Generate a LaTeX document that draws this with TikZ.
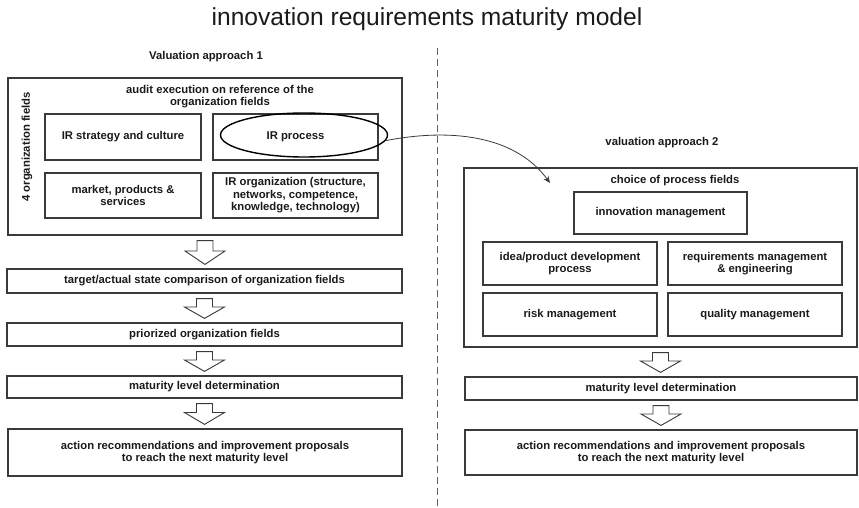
\documentclass[tikz,border=0pt]{standalone}
\usepackage{fontspec}
\setmainfont{Liberation Sans}
\usetikzlibrary{calc,arrows.meta,shapes.geometric}
\definecolor{linec}{HTML}{3A3A3A}
\definecolor{txtc}{HTML}{1A1A1A}
\tikzset{
  box/.style={draw=linec, line width=1.2pt, inner sep=0pt, align=center, text=txtc,
    font=\bfseries\fontsize{11.3}{12.5}\selectfont},
  lbl/.style={inner sep=0pt, align=center, text=txtc, font=\bfseries\fontsize{11.3}{12.5}\selectfont},
  harr/.style={draw=linec, line width=0.9pt, fill=white, line join=miter},
  sep/.style={draw=linec!80, line width=0.9pt, dash pattern=on 7pt off 4pt},
  curv/.style={draw=linec, line width=0.8pt, -{Stealth[length=7pt,width=6pt]}}
}
\newcommand\harrow[2]{%
  \path[harr] let \p1=(#1), \p2=(#2), \n1={(\y1+\y2)/2} in
    (\x1-8pt,\y1-5pt) -- (\x1+8pt,\y1-5pt) -- (\x1+8pt,\n1+1pt) -- (\x1+20pt,\n1+1pt)
    -- (\x1,\y2+4pt) -- (\x1-20pt,\n1+1pt) -- (\x1-8pt,\n1+1pt) -- cycle;}
\begin{document}
\begin{tikzpicture}[x=1pt,y=-1pt]
\useasboundingbox (0,0) rectangle (859,508);
% title
\node[anchor=base, inner sep=0pt, text=txtc, font=\fontsize{24.6}{28}\selectfont] (title) at (427,26) {innovation requirements maturity model};
% separator
\coordinate (sepT) at (437,48);
\coordinate (sepB) at (437,507);
\draw[sep] (sepT) -- (sepB);
% left side
\node[lbl, anchor=base] (va1) at (206,60) {Valuation approach 1};
\node[box, minimum width=394, minimum height=157] (big1) at (205,156.5) {};
\node[lbl] (audit) at (220,96.5) {audit execution on reference of the\\organization fields};
\node[lbl, rotate=90] (four) at (27,147) {4 organization fields};
\node[box, minimum width=156, minimum height=46] (ir1) at (123,137) {IR strategy and culture};
\node[box, minimum width=165, minimum height=46] (ir2) at (295.5,137) {IR process};
\node[box, minimum width=156, minimum height=45] (ir3) at (123,195.5) {market, products \&\\services};
\node[box, minimum width=165, minimum height=45] (ir4) at (295.5,195.5) {IR organization (structure,\\networks, competence,\\knowledge, technology)};
\node[draw=black, line width=1.4pt, ellipse, minimum width=167, minimum height=44, inner sep=0pt] (ell) at (304,135) {};
\node[box, minimum width=395, minimum height=24] (t1) at (204.5,281) {target/actual state comparison of organization fields};
\node[box, minimum width=395, minimum height=23] (t2) at (204.5,334.5) {priorized organization fields};
\node[box, minimum width=395, minimum height=22] (t3) at (204.5,387) {maturity level determination};
\node[box, minimum width=394, minimum height=47] (t4) at (205,452.5) {action recommendations and improvement proposals\\to reach the next maturity level};
\harrow{big1.south}{t1.north}
\harrow{t1.south}{t2.north}
\harrow{t2.south}{t3.north}
\harrow{t3.south}{t4.north}
% right side
\node[lbl] (va2) at (662,143) {valuation approach 2};
\node[box, minimum width=393, minimum height=179] (big2) at (660.5,257.5) {};
\node[lbl] (choice) at (675,181) {choice of process fields};
\node[box, minimum width=173, minimum height=42] (im) at (660.5,213) {innovation management};
\node[box, minimum width=174, minimum height=43] (idea) at (570,263.5) {idea/product development\\process};
\node[box, minimum width=174, minimum height=43] (req) at (755,263.5) {requirements management\\\& engineering};
\node[box, minimum width=174, minimum height=43] (risk) at (570,314.5) {risk management};
\node[box, minimum width=174, minimum height=43] (qual) at (755,314.5) {quality management};
\node[box, minimum width=392, minimum height=23] (m2) at (661,388.5) {maturity level determination};
\node[box, minimum width=392, minimum height=45] (act2) at (661,452.5) {action recommendations and improvement proposals\\to reach the next maturity level};
\harrow{big2.south}{m2.north}
\harrow{m2.south}{act2.north}
% curved arrow
\coordinate (tip) at (550,183);
\draw[curv] (ell.-4) .. controls (450,128) and (515,135) .. (tip);
\end{tikzpicture}
\end{document}
